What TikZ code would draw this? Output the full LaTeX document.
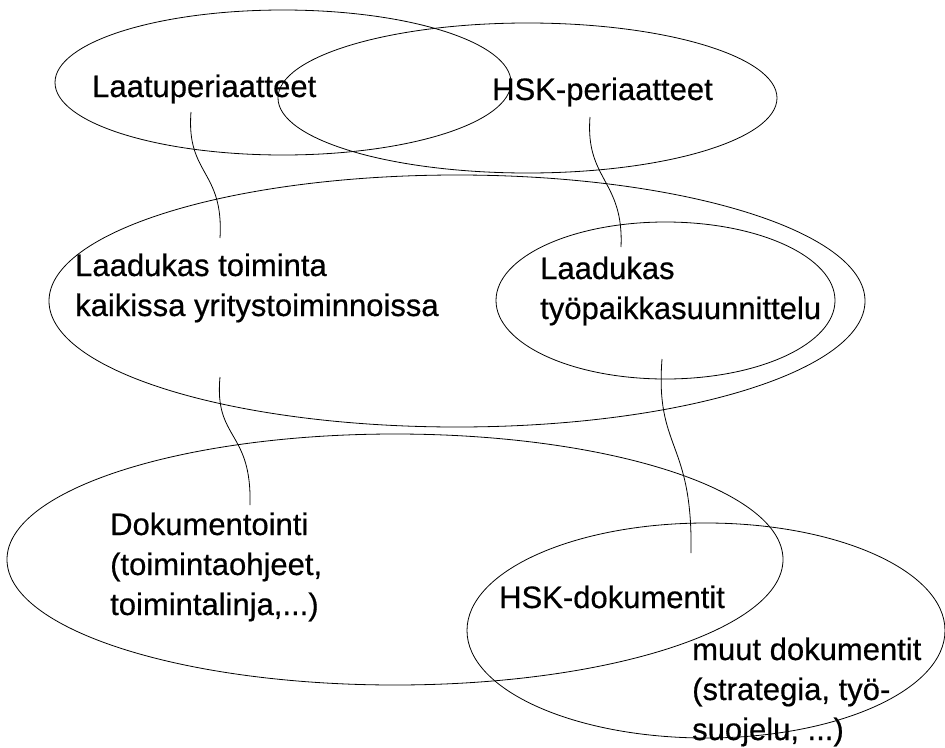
\documentclass[tikz,border=0pt]{standalone}
\usepackage{fontspec}
\setmainfont{Liberation Sans}
\newfontfamily\lblfont[FakeBold=0.5]{Liberation Sans}
\usetikzlibrary{shapes.geometric}
\tikzset{
  oval/.style={draw, ellipse, inner sep=0pt, line width=0.8pt},
  lbl/.style={inner sep=0pt, align=left, anchor=base west,
    font=\lblfont\fontsize{31pt}{40pt}\selectfont},
  link/.style={draw, line width=0.8pt}
}
\begin{document}
\begin{tikzpicture}[x=1pt,y=-1pt]
\useasboundingbox (0,0) rectangle (945,747);
% ellipses
\node[oval, minimum width=456pt, minimum height=145pt] (e1) at (283,82.5) {};
\node[oval, minimum width=499pt, minimum height=150pt] (e2) at (527.5,98) {};
\node[oval, minimum width=816pt, minimum height=252pt] (e3) at (457,301) {};
\node[oval, minimum width=339pt, minimum height=157pt] (e4) at (665.5,300.5) {};
\node[oval, minimum width=776pt, minimum height=251pt] (e5) at (395,559.5) {};
\node[oval, minimum width=478pt, minimum height=215pt] (e6) at (706,630.5) {};
% labels (multi-line nodes are placed by the baseline of their last line)
\node[lbl] (lp) at (92,97) {Laatuperiaatteet};
\node[lbl] (hp) at (492,100) {HSK-periaatteet};
\node[lbl] (lt) at (75,316) {Laadukas toiminta\\kaikissa yritystoiminnoissa};
\node[lbl] (ltp) at (540,319) {Laadukas\\työpaikkasuunnittelu};
\node[lbl] (dok) at (110,615) {Dokumentointi\\(toimintaohjeet,\\toimintalinja,...)};
\node[lbl] (hd) at (499,608) {HSK-dokumentit};
\node[lbl] (md) at (692,740) {muut dokumentit\\(strategia, työ-\\suojelu, ...)};
% connector end points
\coordinate (c1a) at (191,112);
\coordinate (c1b) at (220,238);
\coordinate (c2a) at (590,117);
\coordinate (c2b) at (621,247);
\coordinate (c3a) at (220,377);
\coordinate (c3b) at (250,505);
\coordinate (c4a) at (662,359);
\coordinate (c4b) at (691,553);
% connectors
\path[link] (c1a) .. controls (186,175) and (224,170) .. (c1b);
\path[link] (c2a) .. controls (585,180) and (624,180) .. (c2b);
\path[link] (c3a) .. controls (214,440) and (252,430) .. (c3b);
\path[link] (c4a) .. controls (655,450) and (693,440) .. (c4b);
\end{tikzpicture}
\end{document}
